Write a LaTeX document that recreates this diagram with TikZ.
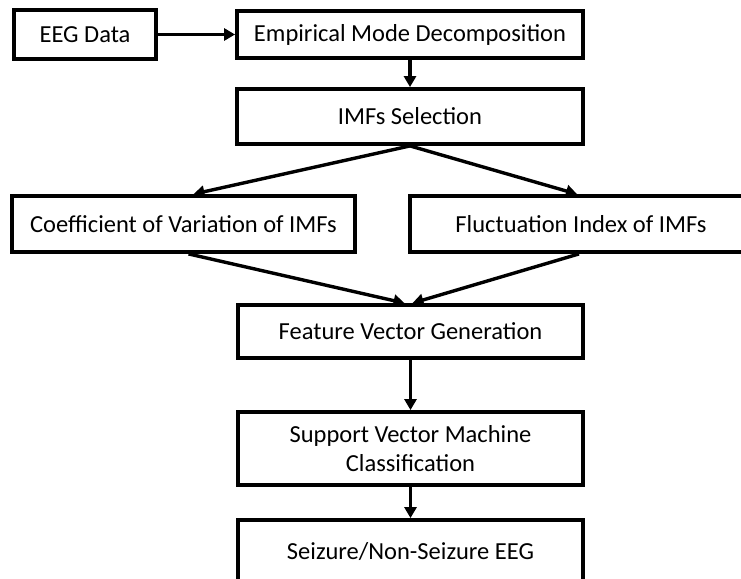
\documentclass[tikz,border=0pt]{standalone}
\usepackage{fontspec}
\setmainfont{Carlito}
\usetikzlibrary{arrows.meta}
\begin{document}
\begin{tikzpicture}[x=1pt,y=-1pt,
  box/.style={draw=black,line width=3.8pt,fill=white,inner sep=0pt,font=\fontsize{24.5}{28.5}\selectfont,align=center},
  conn/.style={line width=3.4pt,-{Triangle[length=11pt,width=12pt]}}]
\useasboundingbox (0,0) rectangle (741,578);
\clip (0,0) rectangle (741,578);
\node[box,minimum width=142pt,minimum height=49pt] (eeg) at (85,34.5) {EEG Data};
\node[box,minimum width=346pt,minimum height=47pt] (emd) at (410,34.5) {Empirical Mode Decomposition};
\node[box,minimum width=346pt,minimum height=55pt] (imf) at (410,116.5) {IMFs Selection};
\node[box,minimum width=343pt,minimum height=56pt] (cov) at (183.5,224) {Coefficient of Variation of IMFs};
\node[box,minimum width=342pt,minimum height=56pt] (fi) at (581,224) {Fluctuation Index of IMFs};
\node[box,minimum width=345pt,minimum height=53pt] (fvg) at (410.5,331.5) {Feature Vector Generation};
\node[box,minimum width=345pt,minimum height=73pt] (svm) at (410.5,448.5) {Support Vector Machine\\Classification};
\node[box,minimum width=345pt,minimum height=64pt] (sz) at (410.5,552) {Seizure/Non-Seizure EEG};
\draw[conn] (eeg.east) -- (emd.west);
\draw[conn] (emd.south) -- (imf.north);
\draw[conn] (imf.south) -- ([xshift=10pt]cov.north);
\draw[conn] (imf.south) -- ([xshift=-4pt]fi.north);
\draw[conn] ([xshift=5pt]cov.south) -- ([xshift=-6pt]fvg.north);
\draw[conn] ([xshift=-2pt]fi.south) -- ([xshift=2pt]fvg.north);
\draw[conn] (fvg.south) -- (svm.north);
\draw[conn] (svm.south) -- (sz.north);
\end{tikzpicture}
\end{document}
